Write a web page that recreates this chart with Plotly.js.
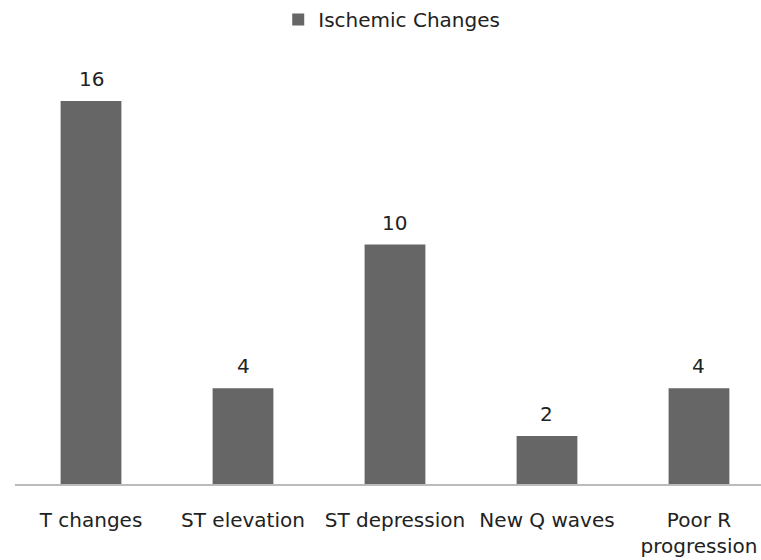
<!DOCTYPE html>
<html>
<head>
<meta charset="utf-8">
<script src="https://cdn.plot.ly/plotly-3.0.1.min.js"></script>
<style>html,body{margin:0;padding:0;background:#fff;}#chart{width:761px;height:560px;}</style>
</head>
<body>
<div id="chart"></div>
<script>
var categories = ["T changes", "ST elevation", "ST depression", "New Q waves", "Poor R<br>progression"];
var seriesName = "Ischemic Changes";
var values = [16, 4, 10, 2, 4];

var FONT = "DejaVu Sans, sans-serif";
var trace = {
  type: "bar",
  x: categories,
  y: values,
  name: seriesName,
  marker: {color: "#666666"},
  width: 0.4,
  showlegend: true
};
var annotations = categories.map(function (c, i) {
  return {x: c, y: values[i], xref: "x", yref: "y", text: String(values[i]),
          showarrow: false, yanchor: "bottom", yshift: 8,
          font: {family: FONT, size: 20, color: "#222"}};
});
var layout = {
  width: 761, height: 560,
  margin: {l: 15, r: 0, t: 60, b: 76},
  paper_bgcolor: "#fff", plot_bgcolor: "#fff",
  font: {family: FONT, size: 20, color: "#222"},
  showlegend: true,
  annotations: annotations,
  legend: {orientation: "h", x: 0.505, xanchor: "center", y: 1.0, yref: "container", yanchor: "top",
           itemwidth: 30, font: {family: FONT, size: 20, color: "#222"}},
  xaxis: {range: [-0.5, 4.408], showline: true, linecolor: "#bbbbbb", linewidth: 1.5,
          ticks: "", ticklabelstandoff: 17, showgrid: false, zeroline: false,
          tickfont: {family: FONT, size: 20, color: "#222"}},
  yaxis: {range: [0, 17.71], visible: false, showgrid: false, zeroline: false},
  bargap: 0.6
};
Plotly.newPlot("chart", [trace], layout, {displayModeBar: false, staticPlot: true});
</script>
</body>
</html>
